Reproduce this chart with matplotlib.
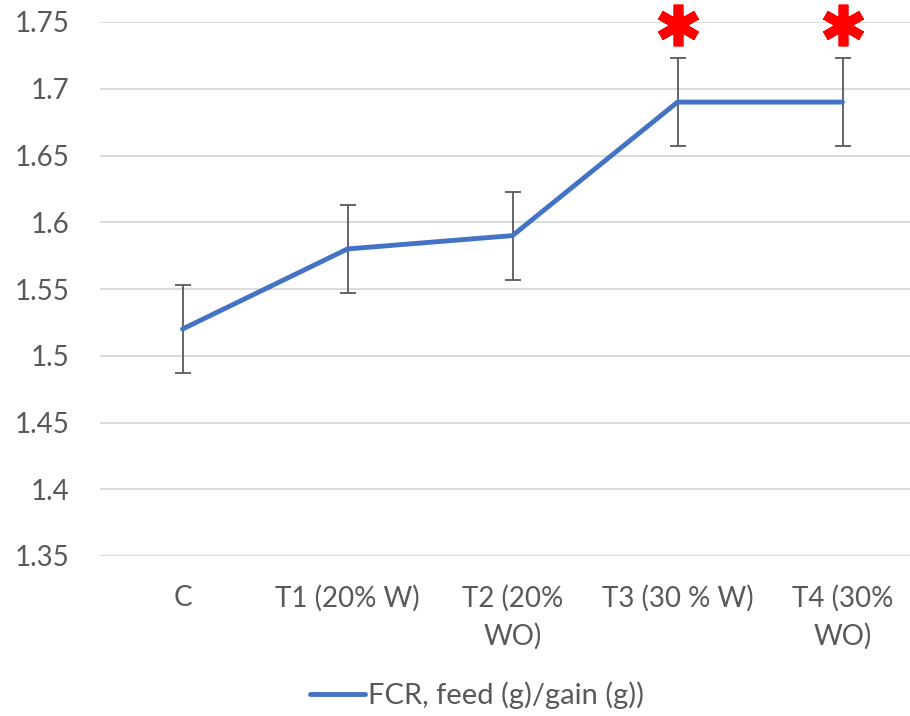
import matplotlib
matplotlib.use("Agg")
import matplotlib.pyplot as plt
from matplotlib.markers import MarkerStyle

plt.rcParams['font.family'] = ['Lato', 'DejaVu Sans']

categories = ["C", "T1 (20% W)", "T2 (20%\nWO)", "T3 (30 % W)", "T4 (30%\nWO)"]
fcr = [1.52, 1.58, 1.59, 1.69, 1.69]
err = [0.033, 0.033, 0.033, 0.033, 0.033]
significant = [False, False, False, True, True]
yticks = [1.35, 1.4, 1.45, 1.5, 1.55, 1.6, 1.65, 1.7, 1.75]
ytick_labels = ["1.35", "1.4", "1.45", "1.5", "1.55", "1.6", "1.65", "1.7", "1.75"]

W, H = 910, 716
fig = plt.figure(figsize=(W / 100, H / 100), dpi=100)
ax = fig.add_axes([100 / W, 160 / H, 825 / W, 534 / H])

x = list(range(len(categories)))
line, = ax.plot(x, fcr, color="#4472C4", lw=3.5, solid_capstyle="round",
                solid_joinstyle="round", zorder=3, label="FCR, feed (g)/gain (g))")
ax.errorbar(x, fcr, yerr=err, fmt="none", ecolor="#595959", elinewidth=1.3,
            capsize=5.5, capthick=1.3, zorder=2)

star = MarkerStyle((6, 2, 0), capstyle="round")
for xi, s in zip(x, significant):
    if s:
        ax.plot([xi], [1.748], marker=star, ms=30, mew=7, color="#FF0000",
                ls="none", clip_on=False, zorder=4)

ax.set_xlim(-0.5, len(categories) - 0.5)
ax.set_ylim(1.35, 1.75)
ax.set_yticks(yticks)
ax.set_yticklabels(ytick_labels)
ax.set_xticks(x)
ax.set_xticklabels(categories, linespacing=1.5)
ax.grid(axis="y", color="#D9D9D9", lw=1.3)
ax.set_axisbelow(True)
for sp in ax.spines.values():
    sp.set_visible(False)
ax.tick_params(axis="both", length=0, labelsize=20, colors="#595959")
ax.tick_params(axis="y", pad=22)
ax.tick_params(axis="x", pad=21)

fig.legend(handles=[line], loc="center", bbox_to_anchor=(477 / W, 1 - 695 / H),
           frameon=False, fontsize=21, labelcolor="#595959", handlelength=1.9,
           handletextpad=0.1)

fig.savefig("out.png", dpi=100)
